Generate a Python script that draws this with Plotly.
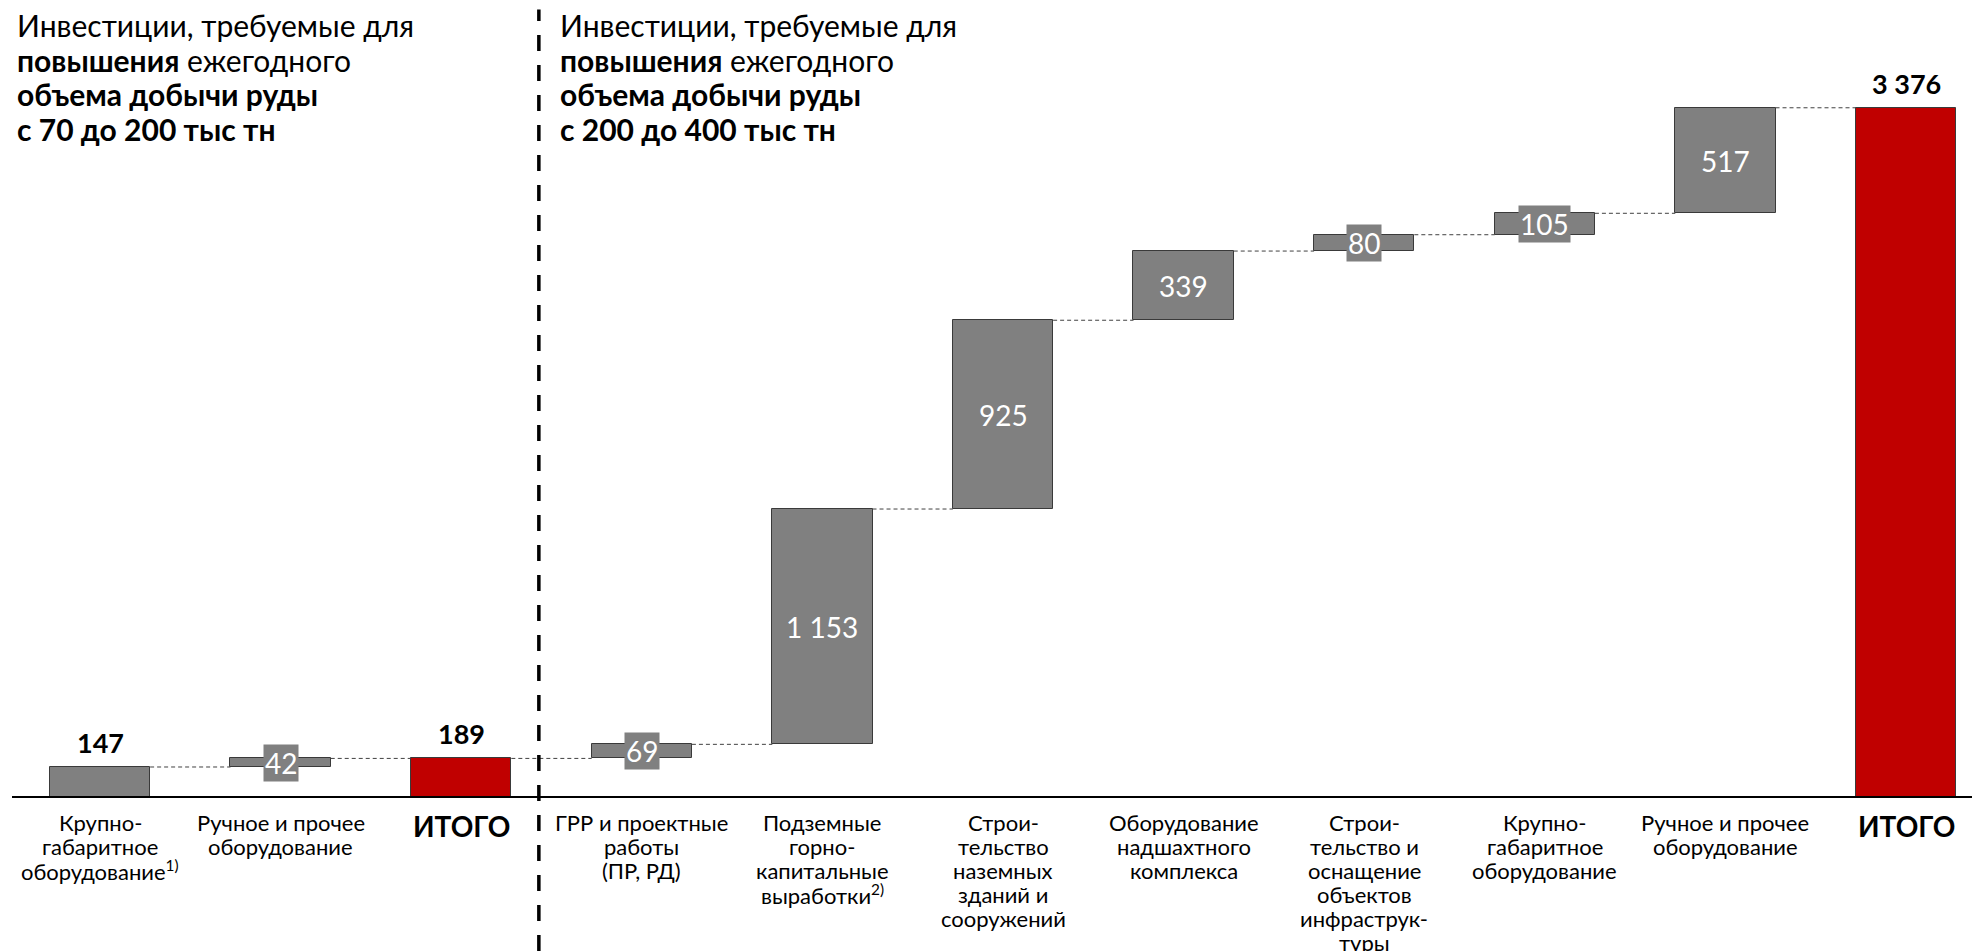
import plotly.graph_objects as go

# Category labels, one list of lines per bar
categories = [
    ["Крупно-", "габаритное", "оборудование<sup>1)</sup>"],
    ["Ручное и прочее", "оборудование"],
    ["<b>ИТОГО</b>"],
    ["ГРР и проектные", "работы", "(ПР, РД)"],
    ["Подземные", "горно-", "капитальные", "выработки<sup>2)</sup>"],
    ["Строи-", "тельство", "наземных", "зданий и", "сооружений"],
    ["Оборудование", "надшахтного", "комплекса"],
    ["Строи-", "тельство и", "оснащение", "объектов", "инфраструк-", "туры"],
    ["Крупно-", "габаритное", "оборудование"],
    ["Ручное и прочее", "оборудование"],
    ["<b>ИТОГО</b>"],
]
# Investment amounts; totals are stated values
values = [147, 42, 189, 69, 1153, 925, 339, 80, 105, 517, 3376]
value_labels = ["147", "42", "189", "69", "1 153", "925", "339", "80", "105", "517", "3 376"]
kinds = ["start", "step", "total", "step", "step", "step", "step", "step", "step", "step", "total"]

title_left = ["Инвестиции, требуемые для", "<b>повышения</b> ежегодного",
              "<b>объема добычи руды</b>", "<b>с 70 до 200 тыс тн</b>"]
title_right = ["Инвестиции, требуемые для", "<b>повышения</b> ежегодного",
               "<b>объема добычи руды</b>", "<b>с 200 до 400 тыс тн</b>"]

GREY = "#808080"
RED = "#C00000"
EDGE = "#3a3a3a"
FONT = "Lato"
W, H = 1972, 951

# bases for floating bars
bases = []
level = 0
for v, k in zip(values, kinds):
    if k in ("total", "start"):
        bases.append(0)
        level = v
    else:
        bases.append(level)
        level += v

xs = list(range(len(values)))
colors = [RED if k == "total" else GREY for k in kinds]
bar_w = 0.555

fig = go.Figure()
fig.add_trace(go.Bar(
    x=xs, y=values, base=bases, width=bar_w,
    marker=dict(color=colors, line=dict(color=EDGE, width=1)),
    hoverinfo="skip", showlegend=False,
))

# dashed connectors between consecutive bars
for i in range(len(values) - 1):
    top = bases[i] + values[i]
    fig.add_trace(go.Scatter(
        x=[i + bar_w / 2, i + 1 - bar_w / 2], y=[top, top], mode="lines",
        line=dict(color="#404040", width=1, dash="4px,3px"),
        hoverinfo="skip", showlegend=False,
    ))

annotations = []
for i, (v, b, k, t) in enumerate(zip(values, bases, kinds, value_labels)):
    if k == "step":
        annotations.append(dict(
            x=i, y=b + v / 2, xref="x", yref="y", text=t, showarrow=False,
            font=dict(family=FONT, size=28, color="white"),
            bgcolor=GREY, borderpad=1, xanchor="center", yanchor="middle",
        ))
    else:
        annotations.append(dict(
            x=i, y=b + v, xref="x", yref="y", text=f"<b>{t}</b>", showarrow=False,
            font=dict(family=FONT, size=27, color="black"),
            xanchor="center", yanchor="bottom", yshift=6,
        ))

# category labels below the baseline, fixed 24 px line pitch
for i, lines in enumerate(categories):
    for j, line in enumerate(lines):
        bold = "ИТОГО" in line
        yc = 826 if bold else 822 + 24 * j
        annotations.append(dict(
            x=i, y=1 - yc / H, xref="x", yref="paper", text=line, showarrow=False,
            font=dict(family=FONT, size=28 if bold else 22, color="black"),
            xanchor="center", yanchor="middle",
        ))

# stage headings, 34.5 px line pitch
for px, lines in ((15, title_left), (558, title_right)):
    for j, line in enumerate(lines):
        yc = 25 + 34.5 * j
        annotations.append(dict(
            x=px / W, y=1 - yc / H, xref="paper", yref="paper", text=line, showarrow=False,
            font=dict(family=FONT, size=30, color="black"),
            xanchor="left", yanchor="middle", align="left",
        ))

shapes = [
    # baseline
    dict(type="line", xref="paper", yref="y", x0=12 / W, x1=1, y0=0, y1=0,
         line=dict(color="black", width=2)),
    # divider between the two investment stages
    dict(type="line", xref="x", yref="paper", x0=2.43, x1=2.43, y0=0, y1=0.99,
         line=dict(color="black", width=3.5, dash="16px,14px")),
]

fig.update_layout(
    width=W, height=H,
    margin=dict(l=0, r=0, t=0, b=0),
    plot_bgcolor="white", paper_bgcolor="white",
    xaxis=dict(range=[-0.5537, 10.3654], visible=False, fixedrange=True),
    yaxis=dict(range=[-754.6, 3905.1], visible=False, fixedrange=True),
    annotations=annotations, shapes=shapes,
    bargap=0, font=dict(family=FONT),
)

fig.write_html("out.html")
